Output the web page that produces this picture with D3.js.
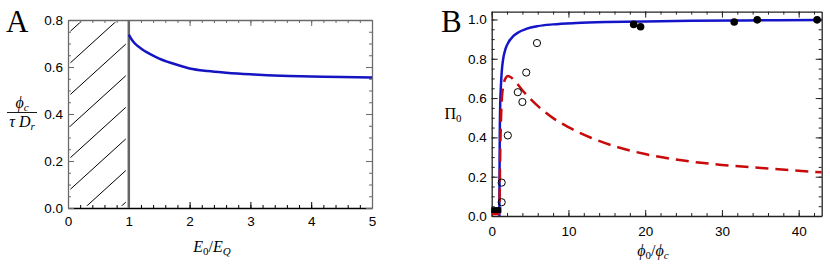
<!DOCTYPE html>
<html>
<head>
<meta charset="utf-8">
<script src="https://cdn.jsdelivr.net/npm/d3@7"></script>
<style>body{margin:0;background:#fff}</style>
</head>
<body>
<script>
// ---- data, panel A
const aField = [1.0, 1.05, 1.1, 1.2, 1.3, 1.4, 1.5, 1.7, 2.0, 2.3, 2.6, 3.0, 3.5, 4.0, 4.5, 5.0];
const aPhi = [0.738, 0.716, 0.7, 0.679, 0.662, 0.648, 0.636, 0.617, 0.594, 0.583, 0.576, 0.569, 0.563, 0.56, 0.557, 0.555];
const aXTicks = [0, 1, 2, 3, 4, 5];
const aYTicks = [0, 0.2, 0.4, 0.6, 0.8];

// ---- data, panel B
const bBlueX = [1.0, 1.02, 1.05, 1.1, 1.2, 1.3, 1.5, 1.8, 2.2, 2.8, 3.5, 4.5, 6, 8, 11, 15, 20, 26, 33, 43];
const bBlueY = [0.0, 0.2, 0.4, 0.55, 0.66, 0.73, 0.8, 0.85, 0.885, 0.915, 0.935, 0.952, 0.966, 0.975, 0.982, 0.987, 0.99, 0.993, 0.995, 0.997];
const bRedX = [0, 0.5, 1.0, 1.05, 1.1, 1.2, 1.3, 1.5, 1.8, 2.1, 2.5, 3, 4, 5, 6.5, 8, 10, 13, 16, 20, 25, 30, 36, 43];
const bRedY = [0.01, 0.01, 0.01, 0.15, 0.3, 0.48, 0.58, 0.66, 0.7, 0.712, 0.706, 0.688, 0.64, 0.597, 0.543, 0.498, 0.452, 0.397, 0.355, 0.315, 0.282, 0.26, 0.242, 0.222];
const openX = [1.3, 1.3, 2.1, 3.4, 4.0, 4.5, 5.9];
const openY = [0.07, 0.17, 0.41, 0.63, 0.58, 0.73, 0.88];
const fillX = [18.5, 19.4, 31.6, 34.6, 42.4];
const fillY = [0.975, 0.963, 0.987, 0.998, 0.998];
const squareX = [0.3, 0.6, 0.9];
const squareY = [0.03, 0.03, 0.03];
const bXTicks = [0, 10, 20, 30, 40];
const bYTicks = [0, 0.2, 0.4, 0.6, 0.8, 1.0];

const width = 830;
const height = 266;

const svg = d3.select('body').append('svg')
  .attr('width', width).attr('height', height)
  .style('font-family', 'DejaVu Sans, sans-serif');

// draws a boxed frame with inward ticks on all four sides
function frame(x, y, xt, yt, xMinor, yMinor, fmtX, fmtY, col, bottomCol, padX) {
  const x0 = x.range()[0], x1 = x.range()[1];
  const y0 = y.range()[0], y1 = y.range()[1];
  const sides = [
    { ax: () => d3.axisBottom(x), t: `translate(0,${y0})`, ticks: xt, minor: xMinor, fmt: fmtX, c: bottomCol },
    { ax: () => d3.axisTop(x), t: `translate(0,${y1})`, ticks: xt, minor: xMinor, fmt: null, c: col },
    { ax: () => d3.axisLeft(y), t: `translate(${x0},0)`, ticks: yt, minor: yMinor, fmt: fmtY, c: col },
    { ax: () => d3.axisRight(y), t: `translate(${x1},0)`, ticks: yt, minor: yMinor, fmt: null, c: col },
  ];
  sides.forEach((s, i) => {
    const g = svg.append('g').attr('transform', s.t);
    g.call(s.ax().tickValues(s.ticks).tickSize(-6).tickSizeOuter(0)
      .tickPadding(i === 0 ? padX : 5)
      .tickFormat(s.fmt ? s.fmt : ''));
    g.select('.domain').attr('stroke', s.c).attr('stroke-width', 1.3);
    g.selectAll('.tick line').attr('stroke', s.c);
    g.selectAll('text').attr('fill', 'black').attr('font-size', '13.5px');
    // minor ticks
    const m = svg.append('g').attr('transform', s.t);
    m.call(s.ax().tickValues(s.minor).tickSize(-3).tickFormat(''));
    m.select('.domain').remove();
    m.selectAll('.tick line').attr('stroke', s.c);
  });
}

// ================= panel A =================
const xA = d3.scaleLinear().domain([0, 5]).range([68, 372]);
const yA = d3.scaleLinear().domain([0, 0.8]).range([208, 20]);

// hatched excluded region E0 < EQ
svg.append('clipPath').attr('id', 'hatchClip').append('rect')
  .attr('x', xA(0.04)).attr('y', yA(0.79))
  .attr('width', xA(0.95) - xA(0.04)).attr('height', yA(0.01) - yA(0.79));
const hatch = d3.range(0, 8).map((k) => 0.743 - 0.1345 * k);
svg.append('g').attr('clip-path', 'url(#hatchClip)')
  .selectAll('line').data(hatch).enter().append('line')
  .attr('x1', xA(0)).attr('y1', (d) => yA(d))
  .attr('x2', xA(1)).attr('y2', (d) => yA(d + 0.235))
  .attr('stroke', 'black').attr('stroke-width', 1);

frame(xA, yA, aXTicks, aYTicks, d3.range(0, 5.01, 0.2), d3.range(0, 0.801, 0.05),
  d3.format('d'), d3.format('.1f'), '#6a6a6a', 'black', 8);

// boundary at E0 = EQ
svg.append('line')
  .attr('x1', xA(1)).attr('x2', xA(1)).attr('y1', yA(0)).attr('y2', yA(0.8))
  .attr('stroke', '#666').attr('stroke-width', 2.5);

const lineA = d3.line().x((d, i) => xA(aField[i])).y((d) => yA(d)).curve(d3.curveMonotoneX);
svg.append('path').datum(aPhi)
  .attr('fill', 'none').attr('stroke', '#1414c0').attr('stroke-width', 2.5)
  .attr('d', lineA);

// ================= panel B =================
const xB = d3.scaleLinear().domain([0, 43]).range([491.7, 821.7]);
const yB = d3.scaleLinear().domain([0, 1.04]).range([216, 11.6]);

frame(xB, yB, bXTicks, bYTicks, d3.range(0, 43, 2), d3.range(0, 1.04, 0.05),
  d3.format('d'), d3.format('.1f'), '#222', '#222', 10);

const lineB = d3.line().curve(d3.curveMonotoneX);
svg.append('path')
  .attr('d', lineB(bBlueX.map((v, i) => [xB(v), yB(bBlueY[i])])))
  .attr('fill', 'none').attr('stroke', '#1414c8').attr('stroke-width', 2.5);
svg.append('path')
  .attr('d', lineB(bRedX.map((v, i) => [xB(v), yB(bRedY[i])])))
  .attr('fill', 'none').attr('stroke', '#c80a0a').attr('stroke-width', 2.5)
  .attr('stroke-dasharray', '13,7');

// experimental points
svg.append('g').selectAll('rect').data(squareX).enter().append('rect')
  .attr('x', (d) => xB(d) - 2.8).attr('y', (d, i) => yB(squareY[i]) - 2.8)
  .attr('width', 5.6).attr('height', 5.6).attr('fill', 'black');
svg.append('g').selectAll('circle').data(openX).enter().append('circle')
  .attr('cx', (d) => xB(d)).attr('cy', (d, i) => yB(openY[i])).attr('r', 3.6)
  .attr('fill', 'none').attr('stroke', 'black').attr('stroke-width', 1);
svg.append('g').selectAll('circle').data(fillX).enter().append('circle')
  .attr('cx', (d) => xB(d)).attr('cy', (d, i) => yB(fillY[i])).attr('r', 3.8)
  .attr('fill', 'black');

// ================= labels =================
const serif = 'Liberation Serif, DejaVu Serif, serif';
svg.append('text').text('A').attr('x', 6).attr('y', 32)
  .attr('font-family', serif).attr('font-size', '31px');
svg.append('text').text('B').attr('x', 441).attr('y', 32)
  .attr('font-family', serif).attr('font-size', '31px');

// y label A: fraction phi_c / (tau D_r)
const num = svg.append('text').attr('x', 22).attr('y', 108)
  .attr('text-anchor', 'middle').attr('font-family', serif).attr('font-size', '16px');
num.append('tspan').attr('font-style', 'italic').text('ϕ');
num.append('tspan').attr('font-style', 'italic').attr('font-size', '11px').attr('dy', 3).text('c');
svg.append('line').attr('x1', 7).attr('x2', 37).attr('y1', 112.5).attr('y2', 112.5)
  .attr('stroke', 'black').attr('stroke-width', 0.9);
const den = svg.append('text').attr('x', 22).attr('y', 127)
  .attr('text-anchor', 'middle').attr('font-family', serif).attr('font-size', '16px');
den.append('tspan').attr('font-style', 'italic').text('τ D');
den.append('tspan').attr('font-style', 'italic').attr('font-size', '11px').attr('dy', 3).text('r');

// x label A
const xlA = svg.append('text').attr('x', 212).attr('y', 252)
  .attr('text-anchor', 'middle').attr('font-family', serif).attr('font-size', '16px');
xlA.append('tspan').attr('font-style', 'italic').text('E');
xlA.append('tspan').attr('font-size', '11px').attr('dy', 3).text('0');
xlA.append('tspan').attr('dy', -3).text('/');
xlA.append('tspan').attr('font-style', 'italic').text('E');
xlA.append('tspan').attr('font-style', 'italic').attr('font-size', '11px').attr('dy', 3).text('Q');

// y label B
const ylB = svg.append('text').attr('x', 453).attr('y', 119)
  .attr('text-anchor', 'middle').attr('font-family', serif).attr('font-size', '16px');
ylB.append('tspan').text('Π');
ylB.append('tspan').attr('font-size', '11px').attr('dy', 3).text('0');

// x label B
const xlB = svg.append('text').attr('x', 653).attr('y', 256)
  .attr('text-anchor', 'middle').attr('font-family', serif).attr('font-size', '16px');
xlB.append('tspan').attr('font-style', 'italic').text('ϕ');
xlB.append('tspan').attr('font-size', '11px').attr('dy', 3).text('0');
xlB.append('tspan').attr('dy', -3).text('/');
xlB.append('tspan').attr('font-style', 'italic').text('ϕ');
xlB.append('tspan').attr('font-style', 'italic').attr('font-size', '11px').attr('dy', 3).text('c');
</script>
</body>
</html>
